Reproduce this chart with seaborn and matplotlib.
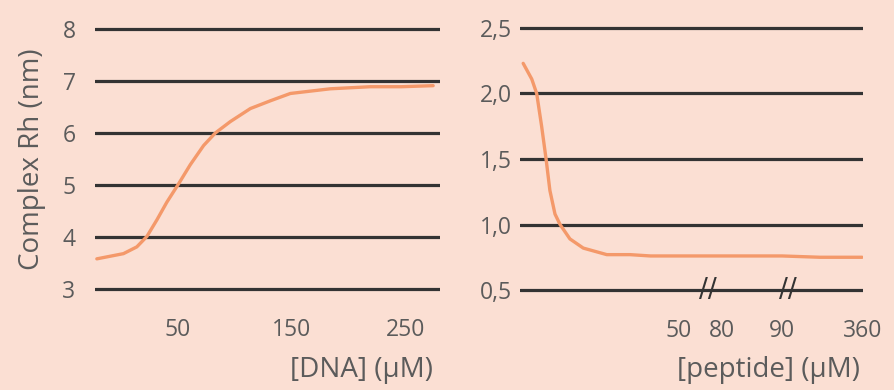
import numpy as np
import matplotlib
matplotlib.use("Agg")
import matplotlib.pyplot as plt
import seaborn as sns


# left panel: hydrodynamic radius vs DNA
dna_conc = [-20.4, 2.9, 14.6, 23.4, 32.2, 40.9, 51.1, 61.4, 73.1, 83.3, 96.5,
            114, 131.6, 149, 184, 219, 246, 274]
dna_rh = [3.58, 3.68, 3.81, 4.01, 4.33, 4.67, 5.02, 5.39, 5.76, 6.00, 6.22,
          6.47, 6.62, 6.76, 6.85, 6.89, 6.89, 6.91]
dna_yticks = [3, 4, 5, 6, 7, 8]
dna_xticks = [50, 150, 250]

# right panel: vs peptide (broken axis)
pep_conc = [1.0, 3.7, 5.25, 6.8, 8.2, 9.4, 11.0, 12.6, 15.7, 19.9, 27.3, 34.6,
            41, 65, 90, 217, 357]
pep_rh = [2.23, 2.11, 2.00, 1.75, 1.50, 1.26, 1.08, 1.00, 0.89, 0.82, 0.77, 0.77,
          0.76, 0.76, 0.76, 0.75, 0.75]
pep_yticks = [0.5, 1.0, 1.5, 2.0, 2.5]
pep_yticklabels = ["0,5", "1,0", "1,5", "2,0", "2,5"]
pep_xticks = [50, 80, 90, 360]
pep_breaks = [70, 110]

# piecewise layout of the broken x axis (concentration -> position)
BREAK_CONC = [0, 50, 80, 90, 360]
BREAK_POS = [0, 159, 202, 262, 343]

BG = "#fbdfd3"
LINE = "#f4996a"
GRID = "#333333"
TEXT = "#5b5b5b"

sns.set_theme(style="white")
plt.rcParams["font.family"] = ["Open Sans", "DejaVu Sans"]
plt.rcParams["text.color"] = TEXT
plt.rcParams["axes.labelcolor"] = TEXT
plt.rcParams["xtick.color"] = TEXT
plt.rcParams["ytick.color"] = TEXT

W, H = 894, 390
fig = plt.figure(figsize=(W / 100, H / 100), dpi=100)
fig.patch.set_facecolor(BG)


def px_axes(x0, x1, y0, y1):
    return fig.add_axes([x0 / W, 1 - y1 / H, (x1 - x0) / W, (y1 - y0) / H])


def style(ax):
    ax.set_facecolor(BG)
    for s in ax.spines.values():
        s.set_visible(False)
    ax.grid(axis="y", color=GRID, linewidth=2.3)
    ax.grid(axis="x", visible=False)
    ax.set_axisbelow(True)
    ax.tick_params(length=0, labelsize=16.5)


# left
ax1 = px_axes(95, 440, 24, 294)
style(ax1)
sns.lineplot(x=dna_conc, y=dna_rh, ax=ax1, color=LINE, linewidth=2.4)
ax1.set_xlim(-22, 280)
ax1.set_ylim(2.904, 8.096)
ax1.set_yticks(dna_yticks)
ax1.set_xticks(dna_xticks)
ax1.tick_params(axis="x", pad=17)
ax1.tick_params(axis="y", pad=14)
ax1.set_xlabel("[DNA] (µM)", loc="right", fontsize=20, labelpad=10)
ax1.xaxis.label.set_x(0.98)
ax1.set_ylabel("Complex Rh (nm)", fontsize=20, labelpad=12)


# right
def fwd(x):
    return np.interp(x, BREAK_CONC, BREAK_POS)


def inv(x):
    return np.interp(x, BREAK_POS, BREAK_CONC)


ax2 = px_axes(520, 863, 23, 295)
style(ax2)
ax2.set_xscale("function", functions=(fwd, inv))
sns.lineplot(x=pep_conc, y=pep_rh, ax=ax2, color=LINE, linewidth=2.4)
ax2.set_xlim(0, 360)
ax2.set_ylim(0.462, 2.538)
ax2.set_yticks(pep_yticks, labels=pep_yticklabels)
ax2.set_xticks(pep_xticks, labels=[str(t) for t in pep_xticks])
ax2.tick_params(axis="x", pad=17)
ax2.tick_params(axis="y", pad=6)
ax2.set_xlabel("[peptide] (µM)", loc="right", fontsize=20, labelpad=10)
ax2.xaxis.label.set_x(0.99)

for b in pep_breaks:
    ax2.text(b, 0.5, "//", ha="center", va="center", fontsize=19,
             color=GRID, family="DejaVu Sans")

fig.savefig("out.png", dpi=100, facecolor=BG)
